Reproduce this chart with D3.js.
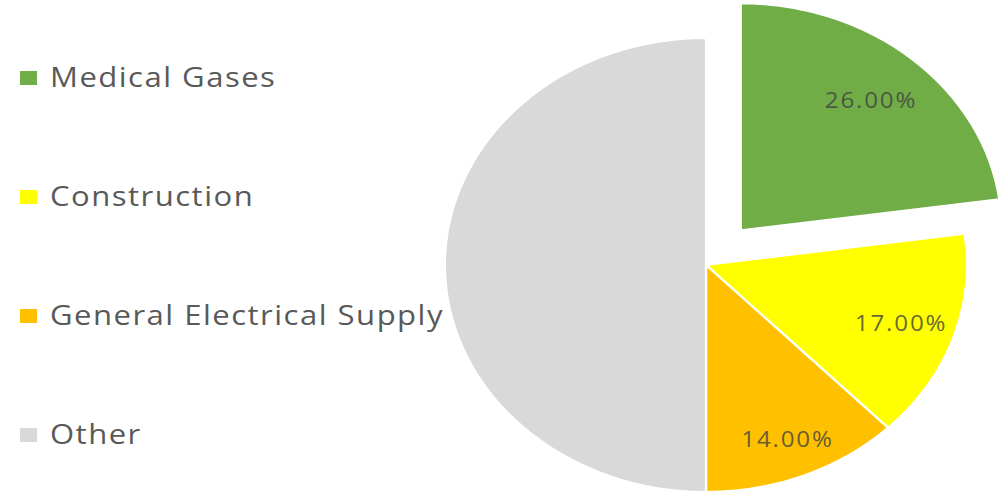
<!DOCTYPE html>
<html>
<head>
<meta charset="utf-8">
<script src="https://cdn.jsdelivr.net/npm/d3@7"></script>
<style>
  body { margin: 0; background: #fff; }
  svg { display: block; }
</style>
</head>
<body>
<div id="chart-area"></div>
<script>
// chart data
var categories = ['Medical Gases', 'Construction', 'General Electrical Supply', 'Other'];
var values = [26, 17, 14, 57];
var labels = ['26.00%', '17.00%', '14.00%', ''];
var colors = ['#70AD47', '#FFFF00', '#FFC000', '#D9D9D9'];
var explode = [46, 0, 0, 0];
var labelRadius = [0.76, 0.79, 0.83, 0.7];

var width = 1008, height = 495;
// the picture is stretched sideways, so draw in a squeezed space and scale up
var sx = 1.15;
var radius = 227;
var cx = 706 / sx, cy = 265;

var svg = d3.select('#chart-area')
	.append('svg')
		.attr('width', width)
		.attr('height', height);

var g = svg.append('g')
	.attr('transform', 'scale(' + sx + ', 1)');

var pie = d3.pie()
	.sort(null)
	.value(d => d);

var arc = d3.arc()
	.innerRadius(0)
	.outerRadius(radius);

var arcs = pie(values);

var slices = g.append('g')
	.attr('transform', 'translate(' + cx + ', ' + cy + ')')
	.selectAll('g.slice')
	.data(arcs)
	.enter()
	.append('g')
		.attr('class', 'slice')
		.attr('transform', (d, i) => {
			var a = (d.startAngle + d.endAngle) / 2;
			return 'translate(' + (Math.sin(a) * explode[i]) + ', ' + (-Math.cos(a) * explode[i]) + ')';
		});

slices.append('path')
	.attr('d', arc)
	.attr('fill', (d, i) => colors[i])
	.attr('stroke', '#fff')
	.attr('stroke-width', 2);

slices.append('text')
	.attr('transform', (d, i) => {
		var r = radius * labelRadius[i];
		var c = d3.arc().innerRadius(r).outerRadius(r).centroid(d);
		return 'translate(' + c + ')';
	})
	.attr('text-anchor', 'middle')
	.attr('dy', '0.35em')
	.attr('font-family', 'Open Sans, sans-serif')
	.attr('font-size', '21px')
	.attr('letter-spacing', '1.6px')
	.attr('fill', '#404040')
	.attr('fill-opacity', 0.8)
	.text((d, i) => labels[i]);

// legend
var legend = g.append('g')
	.selectAll('g.legend')
	.data(categories)
	.enter()
	.append('g')
		.attr('class', 'legend')
		.attr('transform', (d, i) => 'translate(0, ' + (78 + i * 119) + ')');

legend.append('rect')
	.attr('x', 20 / sx)
	.attr('y', -7)
	.attr('width', 17 / sx)
	.attr('height', 14)
	.attr('fill', (d, i) => colors[i]);

legend.append('text')
	.attr('x', 50 / sx)
	.attr('dy', '0.35em')
	.attr('font-family', 'Open Sans, sans-serif')
	.attr('font-size', '27px')
	.attr('letter-spacing', '1.3px')
	.attr('fill', '#595959')
	.text(d => d);
</script>
</body>
</html>
